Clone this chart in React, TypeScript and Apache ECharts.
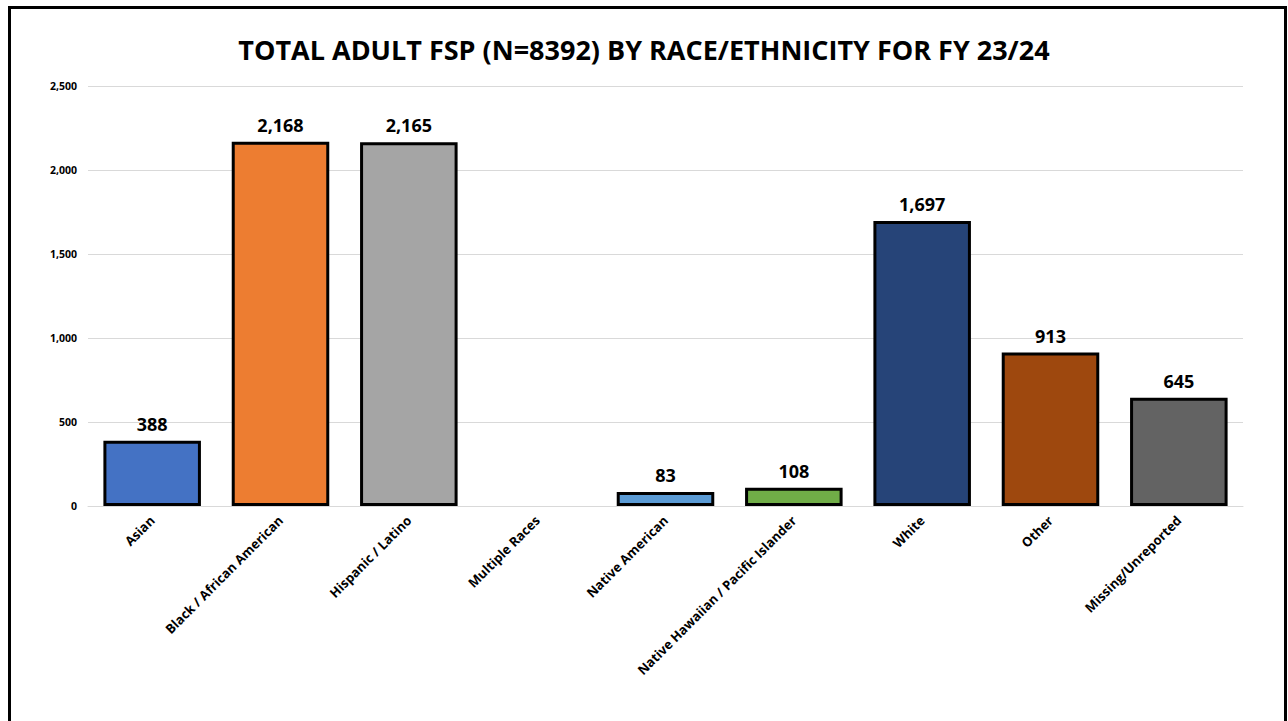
import React, { useEffect, useRef } from "react";
import * as echarts from "echarts";

const categories = [
  "Asian",
  "Black / African American",
  "Hispanic / Latino",
  "Multiple Races",
  "Native American",
  "Native Hawaiian / Pacific Islander",
  "White",
  "Other",
  "Missing/Unreported",
];
const values: (number | null)[] = [388, 2168, 2165, null, 83, 108, 1697, 913, 645];
const barColors = [
  "#4472C4",
  "#ED7D31",
  "#A5A5A5",
  "#FFC000",
  "#5B9BD5",
  "#70AD47",
  "#264478",
  "#9E480E",
  "#636363",
];
const titleText = "TOTAL ADULT FSP (N=8392) BY RACE/ETHNICITY FOR FY 23/24";

export default function App() {
  const ref = useRef<HTMLDivElement>(null);
  useEffect(() => {
    if (!ref.current) return;
    const chart = echarts.init(ref.current, null, { renderer: "svg" });
    chart.setOption({
      animation: false,
      backgroundColor: "#ffffff",
      textStyle: { fontFamily: "Open Sans" },
      title: {
        text: titleText,
        left: "center",
        top: 31,
        padding: [5, 5, 5, 16],
        textStyle: { fontSize: 27, fontWeight: "bold", color: "#000", fontFamily: "Open Sans" },
      },
      graphic: [
        {
          type: "rect",
          shape: { x: 9.5, y: 7.5, width: 1276, height: 760 },
          style: { fill: "none", stroke: "#000", lineWidth: 3 },
          silent: true,
        },
      ],
      grid: { left: 88, right: 45, top: 86, bottom: 215, containLabel: false },
      xAxis: {
        type: "category",
        data: categories,
        axisLine: { lineStyle: { color: "#d9d9d9", width: 1 } },
        axisTick: { show: false },
        axisLabel: {
          interval: 0,
          rotate: 45,
          fontSize: 13,
          fontWeight: "bold",
          color: "#000",
          margin: 12,
        },
      },
      yAxis: {
        type: "value",
        min: 0,
        max: 2500,
        interval: 500,
        axisLine: { show: false },
        axisTick: { show: false },
        splitLine: { lineStyle: { color: "#d9d9d9", width: 1 } },
        axisLabel: {
          fontSize: 10.5,
          fontWeight: "bold",
          color: "#000",
          margin: 11,
          formatter: (v: number) => v.toLocaleString("en-US"),
        },
      },
      series: [
        {
          type: "bar",
          barCategoryGap: "24%",
          data: values.map((v, i) => ({
            value: v,
            itemStyle: { color: barColors[i], borderColor: "#000", borderWidth: 3 },
          })),
          label: {
            show: true,
            position: "top",
            distance: 8,
            fontSize: 18,
            fontWeight: "bold",
            color: "#000",
            formatter: (p: any) => (p.value == null ? "" : Number(p.value).toLocaleString("en-US")),
          },
        },
      ],
    });
    return () => chart.dispose();
  }, []);
  return (
    <div
      ref={ref}
      style={{ position: "fixed", left: 0, top: 0, width: 1288, height: 721 }}
    />
  );
}
